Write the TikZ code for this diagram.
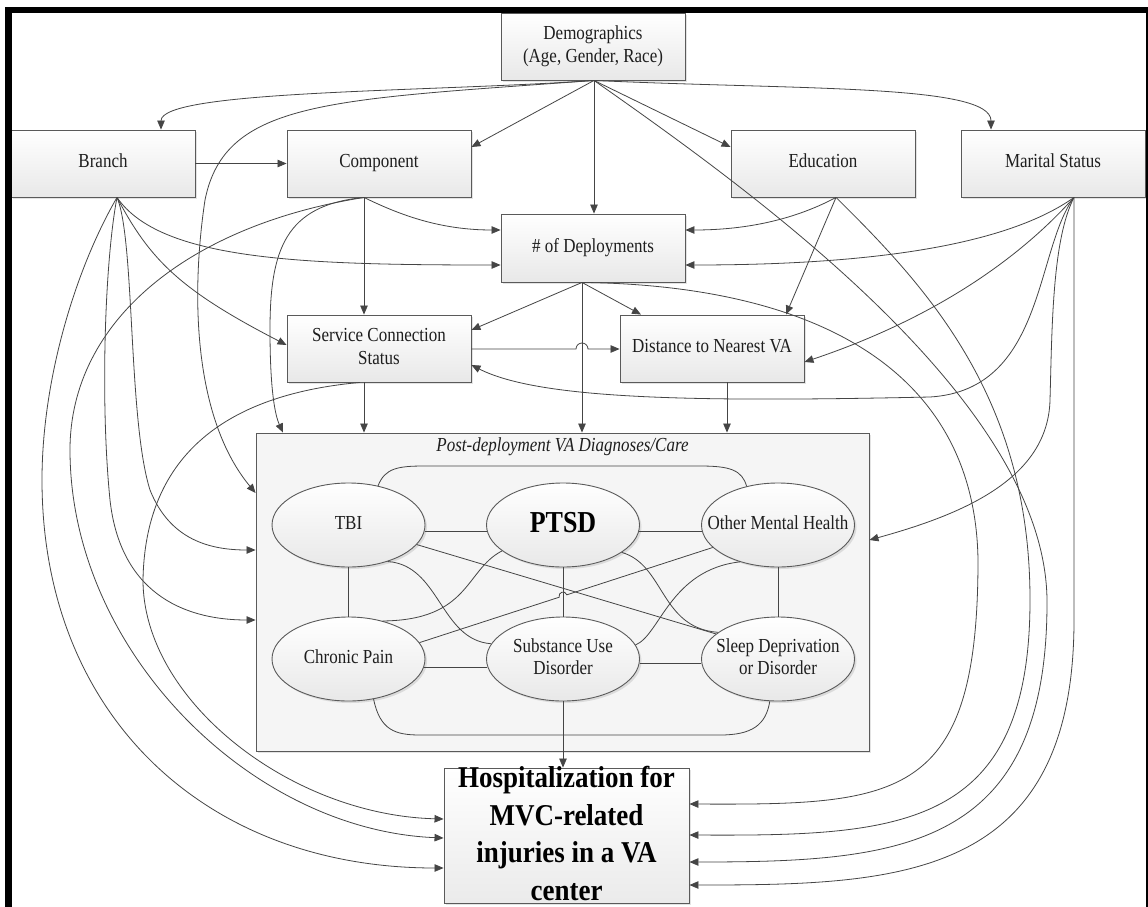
\documentclass[tikz,border=0pt]{standalone}
\usepackage{graphicx}
\usepackage{fontspec}
\setmainfont{Liberation Serif}
\usetikzlibrary{arrows.meta,shapes.geometric,shadows,calc}
\definecolor{lncol}{HTML}{454545}
\definecolor{bxcol}{HTML}{5A5A5A}
\definecolor{txcol}{HTML}{1E1E1E}
\newcommand{\nfont}{\fontsize{17}{19.2}\selectfont}
\newcommand{\hfont}{\fontsize{27}{33.66}\selectfont\bfseries}
\newcommand{\zw}[1]{\makebox[0pt]{#1}}
\newcommand{\vs}[1]{\scalebox{1}[1.17]{\begin{tabular}{@{}c@{}}#1\end{tabular}}}
\newcommand{\vh}[1]{\scalebox{1}[1.12]{\begin{tabular}{@{}c@{}}#1\end{tabular}}}
\tikzset{
  shad/.style={drop shadow={shadow xshift=2pt,shadow yshift=-2pt,opacity=0.22}},
  box/.style={rectangle, draw=bxcol, line width=0.9pt, top color=white, bottom color=black!9, shad,
              inner sep=0pt, font=\nfont, text=txcol, minimum width=184pt, minimum height=67pt},
  bigbox/.style={rectangle, draw=bxcol, line width=0.9pt, fill=black!4, shad, inner sep=0pt},
  hbox/.style={rectangle, draw=bxcol, line width=0.9pt, top color=white, bottom color=black!8, shad,
              inner sep=0pt, font=\hfont, text=black},
  ell/.style={ellipse, draw=bxcol, line width=0.9pt, top color=white, bottom color=black!9, shad,
              inner sep=0pt, minimum width=153pt, minimum height=84pt, font=\nfont, text=txcol},
  ln/.style={draw=lncol, line width=0.8pt},
  arr/.style={ln, -{Triangle[length=9pt,width=7.5pt]}}
}
\begin{document}
\begin{tikzpicture}[x=1pt,y=-1pt]
\useasboundingbox (0,0) rectangle (1148,907);
\fill[white] (0,0) rectangle (1148,907);

% container
\node[bigbox, minimum width=613pt, minimum height=318pt] (big) at (562.5,592) {};
\node[font=\itshape\nfont, text=txcol, inner sep=0pt] (care) at (562.5,447) {\vs{Post-deployment VA Diagnoses/Care}};

% ellipses
\node[ell] (tbi) at (348.5,525) {\zw{\vs{TBI}}};
\node[ell, font=\fontsize{26}{30}\selectfont\bfseries, text=black] (ptsd) at (563,525) {\zw{\vs{PTSD}}};
\node[ell] (omh) at (778,525) {\zw{\vs{Other Mental Health}}};
\node[ell] (chronic) at (348.5,659) {\zw{\vs{Chronic Pain}}};
\node[ell] (sud) at (563,659) {\zw{\vs{Substance Use\\Disorder}}};
\node[ell] (sleep) at (778,659) {\zw{\vs{Sleep Deprivation\\or Disorder}}};

% boxes
\node[box] (demo) at (593,46.5) {\vs{Demographics\\(Age, Gender, Race)}};
\node[box] (branch) at (103,163.5) {\vs{Branch}};
\node[box] (comp) at (379,163.5) {\vs{Component}};
\node[box] (edu) at (823,163.5) {\vs{Education}};
\node[box] (mar) at (1053,163.5) {\vs{Marital Status}};
\node[box, minimum height=68pt] (dep) at (593,248) {\vs{\# of Deployments}};
\node[box] (scs) at (379,348.5) {\vs{Service Connection\\Status}};
\node[box] (dist) at (712,348.5) {\vs{Distance to Nearest VA}};
\node[hbox, minimum width=245pt, minimum height=135pt, text height=70pt, text depth=54pt] (hosp) at (566.5,835.5)
  {\vh{Hospitalization for\\MVC-related\\injuries in a VA\\center}};

% Demographics
\draw[arr] ([xshift=1pt]demo.south) .. controls (430,92) and (161,90) .. (branch.north -| 161,0);
\draw[arr] ([xshift=1pt]demo.south) .. controls (330,100) and (225,100) .. (205,200)
           .. controls (190,300) and (195,420) .. (big.west |- 0,493);
\draw[arr] ([xshift=1pt]demo.south) -- (comp.east |- 0,147);
\draw[arr] ([xshift=1pt]demo.south) -- (dep.north -| 594,0);
\draw[arr] ([xshift=1pt]demo.south) -- (edu.west |- 0,147);
\draw[arr] ([xshift=1pt]demo.south) .. controls (800,90) and (991,84) .. (mar.north -| 991,0);
\draw[arr] ([xshift=1pt]demo.south) .. controls (750,190) and (1045,400) .. (1047,600)
           .. controls (1048,850) and (900,862) .. (hosp.east |- 0,862);

% Branch
\draw[arr] (branch.east) -- (comp.west);
\draw[arr] ([xshift=14pt]branch.south) .. controls (160,260) and (300,265) .. (dep.west |- 0,265);
\draw[arr] ([xshift=14pt]branch.south) .. controls (150,260) and (180,290) .. (scs.west |- 0,345);
\draw[arr] ([xshift=14pt]branch.south) .. controls (135,240) and (128,420) .. (150,490)
           .. controls (170,540) and (210,550) .. (big.west |- 0,550);
\draw[arr] ([xshift=14pt]branch.south) .. controls (105,260) and (100,400) .. (110,500)
           .. controls (120,590) and (180,620) .. (big.west |- 0,620);
\draw[arr] ([xshift=14pt]branch.south) .. controls (75,270) and (42,380) .. (42,480)
           .. controls (42,713) and (203,868) .. (hosp.west |- 0,868);

% Component
\draw[arr] ([xshift=-15pt]comp.south) -- (scs.north -| 364,0);
\draw[arr] ([xshift=-15pt]comp.south) .. controls (400,215) and (440,230) .. (dep.west |- 0,230);
\draw[arr] ([xshift=-15pt]comp.south) .. controls (285,205) and (270,250) .. (270,330)
           .. controls (270,390) and (275,415) .. (big.north -| 283,0);
\draw[arr] ([xshift=-15pt]comp.south) .. controls (190,225) and (70,320) .. (70,450)
           .. controls (70,650) and (250,830) .. (hosp.west |- 0,838);

% Education
\draw[arr] ([xshift=13pt]edu.south) .. controls (790,222) and (740,230) .. (dep.east |- 0,230);
\draw[arr] ([xshift=13pt]edu.south) -- (dist.north -| 786,0);
\draw[arr] ([xshift=13pt]edu.south) .. controls (930,290) and (1030,400) .. (1030,600)
           .. controls (1030,830) and (900,836) .. (hosp.east |- 0,835);

% Marital status
\draw[arr] ([xshift=21pt]mar.south) .. controls (1000,250) and (850,265) .. (dep.east |- 0,265);
\draw[arr] ([xshift=21pt]mar.south) .. controls (1000,280) and (900,330) .. (dist.east |- 0,362);
\draw[arr] ([xshift=21pt]mar.south) .. controls (1035,250) and (1045,390) .. (930,397)
           .. controls (700,402) and (540,400) .. (scs.east |- 0,365);
\draw[arr] ([xshift=21pt]mar.south) .. controls (1052,240) and (1052,330) .. (1050,400)
           .. controls (1048,480) and (960,515) .. (big.east |- 0,540);
\draw[arr] ([xshift=21pt]mar.south) -- (1074,620) .. controls (1074,880) and (900,885) .. (hosp.east |- 0,885);

% Deployments
\draw[arr] ([xshift=-11pt]dep.south) -- (scs.east |- 0,330);
\draw[arr] ([xshift=-11pt]dep.south) -- (big.north -| 582,0);
\draw[arr] ([xshift=-11pt]dep.south) -- (dist.north -| 641,0);
\draw[arr] ([xshift=-11pt]dep.south) .. controls (800,285) and (975,360) .. (978,560)
           .. controls (978,800) and (900,805) .. (hosp.east |- 0,804);

% Service connection
\draw[arr] (scs.south -| 364,0) -- (big.north -| 364,0);
\draw[arr] (scs.east |- 0,349) -- (576,349) arc[start angle=180,end angle=0,radius=6pt] -- (dist.west |- 0,349);
\draw[arr] ([xshift=-19pt]scs.south) .. controls (220,395) and (145,460) .. (143,580)
           .. controls (143,700) and (290,815) .. (hosp.west |- 0,819);

% Distance
\draw[arr] (dist.south -| 727,0) -- (big.north -| 727,0);

% inside the container
\draw[ln] (tbi.53) .. controls (385,468) and (398,466) .. (425,466) -- (700,466)
          .. controls (730,466) and (742,470) .. (omh.129);
\draw[ln] (tbi.-5) -- (ptsd.185);
\draw[ln] (ptsd.-5) -- (omh.185);
\draw[ln] (tbi.south) -- (chronic.north);
\draw[ln] (ptsd.south) -- (sud.north);
\draw[ln] (omh.south) -- (sleep.north);
\draw[ln] (chronic.-6.5) -- (sud.186.5);
\draw[ln] (sud.-3) -- (sleep.183);
\draw[ln] (tbi.-16) -- (sleep.158);
\draw[ln] (chronic.13) -- (559.2,597.2) .. controls (557.6,592.2) and (565.2,589.8) .. (566.8,594.8) -- (omh.199);
\draw[ln] (tbi.-43) .. controls (440,565) and (440,640) .. (sud.168);
\draw[ln] (ptsd.203) .. controls (465,570) and (470,620) .. (chronic.48);
\draw[ln] (ptsd.-25) .. controls (665,565) and (660,628) .. (sleep.156);
\draw[ln] (omh.224) .. controls (670,570) and (660,635) .. (sud.11);
\draw[ln] (chronic.-58) .. controls (380,730) and (395,735) .. (420,735) -- (720,735)
          .. controls (752,735) and (766,725) .. (sleep.259);
\draw[arr] (sud.south) -- (sud.south |- hosp.north);

% frame
\fill[black] (5,7) rectangle (12,907);
\fill[black] (5,7) rectangle (1148,13);
\fill[black] (1145.8,7) rectangle (1148,907);
\end{tikzpicture}
\end{document}
